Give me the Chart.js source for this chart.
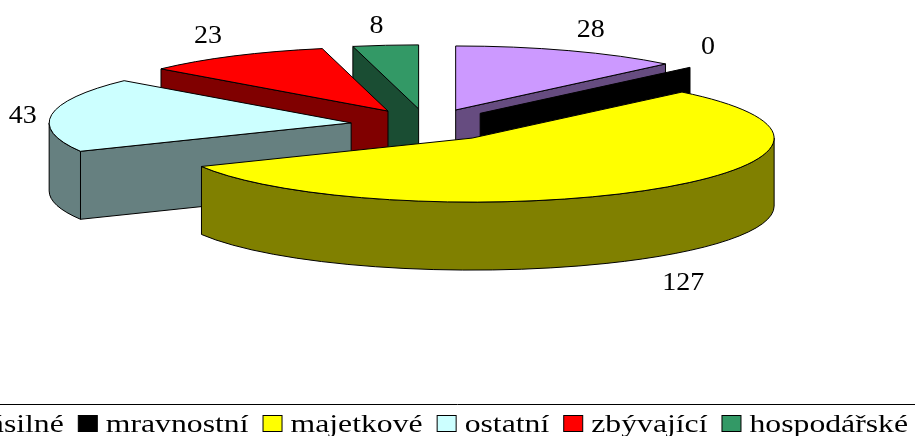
<!DOCTYPE html>
<html>
<head>
<meta charset="utf-8">
<title>Graf</title>
<script src="https://cdn.jsdelivr.net/npm/chart.js@4"></script>
<style>
    html, body { margin: 0; padding: 0; background: #fff; overflow: hidden; }
    canvas { display: block; }
</style>
</head>
<body>
<canvas id="pieChart" width="915" height="436"></canvas>
<script>
// Chart data
const categories = ['násilné', 'mravnostní', 'majetkové', 'ostatní', 'zbývající', 'hospodářské'];
const values = [28, 0, 127, 43, 23, 8];
const topColors = ['#CC99FF', '#000000', '#FFFF00', '#CCFFFF', '#FF0000', '#339966'];
const sideColors = ['#664C80', '#000000', '#808000', '#668080', '#800000', '#1A4D33'];

// 3D look
const RADIUS = 302;
const SQUASH = 64 / 302;
const DEPTH = 68;
const EXPLODE = 76.5;
const CENTER_Y = 125;
const DRAW_ORDER = [5, 4, 3, 0, 1, 2];

// Text
const LABEL_FONT = '25px "Liberation Serif"';
const LEGEND_FONT = '26px "Liberation Serif"';
const LABEL_STRETCH = 1.12;
const LEGEND_STRETCH = 1.22;
const labelNudges = [[22, -20], [18, -20], [33, 26], [-29, 2], [-26, -20], [-9, -19]];

// Apex of a slice after it is pulled out of the pie
function sliceApex(arc) {
    const mid = (arc.startAngle + arc.endAngle) / 2;
    const off = arc.options.offset / 4;
    return {
        x: arc.x + Math.cos(mid) * off,
        y: CENTER_Y + Math.sin(mid) * off * SQUASH
    };
}

function rimPoint(apex, r, angle) {
    return { x: apex.x + r * Math.cos(angle), y: apex.y + r * Math.sin(angle) * SQUASH };
}

function paint(ctx, fill) {
    ctx.fillStyle = fill;
    ctx.fill();
    ctx.strokeStyle = '#000';
    ctx.lineWidth = 1;
    ctx.stroke();
}

// Flat wall along one radial edge
function drawRadialWall(ctx, apex, r, angle, color) {
    const rim = rimPoint(apex, r, angle);
    ctx.beginPath();
    ctx.moveTo(apex.x, apex.y);
    ctx.lineTo(rim.x, rim.y);
    ctx.lineTo(rim.x, rim.y + DEPTH);
    ctx.lineTo(apex.x, apex.y + DEPTH);
    ctx.closePath();
    paint(ctx, color);
}

// Curved wall, only the part facing the viewer
function drawOuterWall(ctx, apex, r, arc, color) {
    const from = Math.max(arc.startAngle, 0);
    const to = Math.min(arc.endAngle, Math.PI);
    if (to <= from) return;
    const ry = r * SQUASH;
    ctx.beginPath();
    ctx.ellipse(apex.x, apex.y, r, ry, 0, from, to);
    ctx.ellipse(apex.x, apex.y + DEPTH, r, ry, 0, to, from, true);
    ctx.closePath();
    paint(ctx, color);
}

function drawSlice(ctx, arc, index) {
    const apex = sliceApex(arc);
    const r = arc.outerRadius;
    const side = sideColors[index];

    if (Math.sin(arc.startAngle + Math.PI / 2) < 0) drawRadialWall(ctx, apex, r, arc.startAngle, side);
    if (Math.sin(arc.endAngle + Math.PI / 2) > 0) drawRadialWall(ctx, apex, r, arc.endAngle, side);
    drawOuterWall(ctx, apex, r, arc, side);

    if (arc.circumference === 0) return;
    ctx.beginPath();
    ctx.moveTo(apex.x, apex.y);
    ctx.ellipse(apex.x, apex.y, r, r * SQUASH, 0, arc.startAngle, arc.endAngle);
    ctx.closePath();
    paint(ctx, topColors[index]);
}

function drawStretchedText(ctx, text, x, y, stretch, align) {
    ctx.save();
    ctx.translate(x, y);
    ctx.scale(stretch, 1);
    ctx.textAlign = align;
    ctx.fillText(text, 0, 0);
    ctx.restore();
}

function drawValueLabels(chart, ctx) {
    const arcs = chart.getDatasetMeta(0).data;
    ctx.font = LABEL_FONT;
    ctx.fillStyle = '#000';
    ctx.textBaseline = 'middle';
    arcs.forEach((arc, i) => {
        const apex = sliceApex(arc);
        const mid = (arc.startAngle + arc.endAngle) / 2;
        const rim = rimPoint(apex, arc.outerRadius, mid);
        const drop = Math.sin(mid) > 0 ? DEPTH : 0;
        const x = rim.x + labelNudges[i][0];
        const y = rim.y + drop + labelNudges[i][1];
        drawStretchedText(ctx, String(values[i]), x, y, LABEL_STRETCH, 'center');
    });
}

// Legend runs wider than the picture, so it is cut at the left edge
function drawLegend(chart, ctx) {
    const swatchW = 20, swatchH = 17, swatchGap = 8, itemGap = 14;
    const centerX = chart.getDatasetMeta(0).data[0].x;

    ctx.strokeStyle = '#000';
    ctx.lineWidth = 1;
    ctx.beginPath();
    ctx.moveTo(0, 404.5);
    ctx.lineTo(chart.width, 404.5);
    ctx.stroke();

    ctx.font = LEGEND_FONT;
    ctx.textBaseline = 'alphabetic';
    const widths = categories.map(c => ctx.measureText(c).width * LEGEND_STRETCH);
    const total = widths.reduce((a, b) => a + b + swatchW + swatchGap, 0) + itemGap * (categories.length - 1);
    let x = centerX - total / 2;
    categories.forEach((c, i) => {
        ctx.fillStyle = topColors[i];
        ctx.fillRect(x + 0.5, 415.5, swatchW - 1, swatchH - 1);
        ctx.strokeStyle = '#000';
        ctx.strokeRect(x + 0.5, 415.5, swatchW - 1, swatchH - 1);
        ctx.fillStyle = '#000';
        drawStretchedText(ctx, c, x + swatchW + swatchGap, 432, LEGEND_STRETCH, 'left');
        x += swatchW + swatchGap + widths[i] + itemGap;
    });
}

const pie3d = {
    id: 'pie3d',
    beforeDatasetsDraw(chart) {
        const ctx = chart.ctx;
        const arcs = chart.getDatasetMeta(0).data;
        ctx.save();
        DRAW_ORDER.forEach(i => drawSlice(ctx, arcs[i], i));
        ctx.restore();
        return false;
    },
    afterDraw(chart) {
        const ctx = chart.ctx;
        ctx.save();
        drawValueLabels(chart, ctx);
        drawLegend(chart, ctx);
        ctx.restore();
    }
};

new Chart(document.getElementById('pieChart'), {
    type: 'pie',
    data: {
        labels: categories,
        datasets: [{
            data: values,
            backgroundColor: topColors,
            borderColor: '#000',
            borderWidth: 1,
            offset: EXPLODE * 4
        }]
    },
    options: {
        responsive: false,
        animation: false,
        radius: RADIUS,
        layout: { padding: { right: 61 } },
        plugins: {
            legend: { display: false },
            tooltip: { enabled: false }
        }
    },
    plugins: [pie3d]
});
</script>
</body>
</html>
